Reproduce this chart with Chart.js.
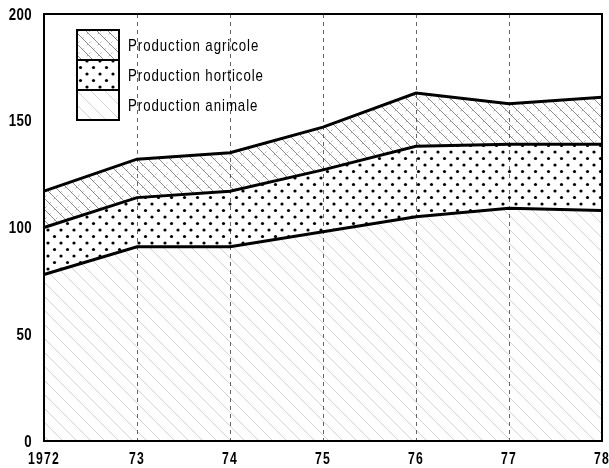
<!DOCTYPE html>
<html>
<head>
<meta charset="utf-8">
<script src="https://cdn.jsdelivr.net/npm/chart.js@4.4.0/dist/chart.umd.min.js"></script>
<style>
html,body{margin:0;padding:0;background:#fff;}
#wrap{width:609px;height:468px;position:relative;}
</style>
</head>
<body>
<div id="wrap"><canvas id="c"></canvas></div>
<script>
const years = ['1972','73','74','75','76','77','78'];
const animale   = [78, 91, 91, 98, 105, 109, 108];
const horticole = [22, 23, 26, 29, 33, 30, 31];
const agricole  = [17, 18, 18, 20, 25, 19, 22];
const yTicks = [0, 50, 100, 150, 200];
const seriesLabels = ['Production animale', 'Production horticole', 'Production agricole'];

function makePattern(w, h, draw) {
  const c = document.createElement('canvas');
  c.width = w; c.height = h;
  const g = c.getContext('2d');
  draw(g, w, h);
  return g.createPattern(c, 'repeat');
}
function diag(g, s, color, width, dir) {
  g.strokeStyle = color; g.lineWidth = width;
  g.beginPath();
  for (let k = -s; k <= s; k += s) {
    if (dir > 0) { g.moveTo(k, 0); g.lineTo(k + s, s); }
    else { g.moveTo(k + s, 0); g.lineTo(k, s); }
  }
  g.stroke();
}
const patAgri = makePattern(11, 11, (g) => {
  diag(g, 11, 'rgba(60,60,60,0.65)', 0.9, 1);
  g.setLineDash([2, 4]);
  diag(g, 11, 'rgba(80,80,80,0.55)', 0.8, -1);
});
const patHort = makePattern(13, 13, (g) => {
  g.fillStyle = '#000';
  [[2.5, 2.5], [9, 9]].forEach(([x, y]) => { g.beginPath(); g.arc(x, y, 1.6, 0, Math.PI * 2); g.fill(); });
});
const patAnim = makePattern(14, 14, (g) => {
  diag(g, 14, 'rgba(120,120,120,0.42)', 0.8, 1);
});
const patterns = [patAnim, patHort, patAgri];

function scaledText(ctx, text, x, y, sx, align) {
  ctx.save();
  ctx.translate(x, y);
  ctx.scale(sx, 1);
  ctx.textAlign = align;
  ctx.fillText(text, 0, 0);
  ctx.restore();
}
function setSpacing(ctx, v) { try { ctx.letterSpacing = v; } catch (e) {} }

const frameAndLegend = {
  id: 'frameAndLegend',
  afterDatasetsDraw(chart) {
    const ctx = chart.ctx, a = chart.chartArea;
    ctx.save();
    ctx.strokeStyle = '#000';
    ctx.lineWidth = 2;
    ctx.setLineDash([]);
    ctx.beginPath();
    ctx.moveTo(a.left, a.bottom); ctx.lineTo(a.left, a.top); ctx.lineTo(a.right, a.top);
    ctx.lineTo(a.right, a.bottom); ctx.lineTo(a.left, a.bottom);
    ctx.stroke();
    // tick labels
    ctx.fillStyle = '#000';
    ctx.textBaseline = 'middle';
    const xs = chart.scales.x, ys = chart.scales.y;
    ctx.font = 'bold 17px "Liberation Sans", Arimo, sans-serif';
    setSpacing(ctx, '1.6px');
    xs.ticks.forEach((t, i) => {
      scaledText(ctx, xs.getLabelForValue(t.value), xs.getPixelForTick(i), a.bottom + 18, 0.72, 'center');
    });
    setSpacing(ctx, '0.5px');
    ys.ticks.forEach((t) => {
      scaledText(ctx, String(t.value), 32, ys.getPixelForValue(t.value) + 1, 0.78, 'right');
    });
    // legend
    const lx = 77, lw = 42, ly = 30, lh = 30;
    const order = [2, 1, 0];
    order.forEach((di, i) => {
      const ds = chart.data.datasets[di];
      const y = ly + i * lh;
      ctx.fillStyle = '#fff';
      ctx.fillRect(lx, y, lw, lh);
      ctx.fillStyle = ds.backgroundColor;
      ctx.fillRect(lx, y, lw, lh);
      ctx.lineWidth = 2; ctx.strokeStyle = '#000';
      ctx.strokeRect(lx, y, lw, lh);
      ctx.fillStyle = '#000';
      ctx.font = '17px "Liberation Sans", Arimo, sans-serif';
      ctx.textBaseline = 'middle';
      setSpacing(ctx, '1.2px');
      scaledText(ctx, ds.label, 128, y + lh / 2 + 1, 0.78, 'left');
      setSpacing(ctx, '0px');
    });
    ctx.restore();
  }
};

new Chart(document.getElementById('c'), {
  type: 'line',
  data: {
    labels: years,
    datasets: [
      { label: seriesLabels[0], data: animale, fill: 'origin' },
      { label: seriesLabels[1], data: horticole, fill: '-1' },
      { label: seriesLabels[2], data: agricole, fill: '-1' }
    ].map((d, i) => Object.assign(d, {
      backgroundColor: patterns[i],
      borderColor: '#000',
      borderWidth: 3,
      pointRadius: 0,
      tension: 0
    }))
  },
  options: {
    responsive: true,
    maintainAspectRatio: false,
    animation: false,
    devicePixelRatio: 1,
    layout: { padding: { top: 14, right: 7, left: 0, bottom: 0 } },
    plugins: { legend: { display: false }, tooltip: { enabled: false } },
    scales: {
      x: {
        offset: false,
        grid: { color: 'rgba(0,0,0,0.6)', lineWidth: 1, drawTicks: false },
        border: { display: true, color: '#000', width: 2, dash: [4, 4] },
        ticks: { display: false, autoSkip: false },
        afterFit(s) { s.height = 27; s.paddingLeft = 0; s.paddingRight = 0; }
      },
      y: {
        stacked: true,
        min: 0, max: 200,
        grid: { display: false },
        border: { display: true, color: '#000', width: 2 },
        afterBuildTicks(s) { s.ticks = yTicks.map(v => ({ value: v })); },
        ticks: { display: false },
        afterFit(s) { s.width = 44; s.paddingTop = 0; s.paddingBottom = 0; }
      }
    }
  },
  plugins: [frameAndLegend]
});
</script>
</body>
</html>
